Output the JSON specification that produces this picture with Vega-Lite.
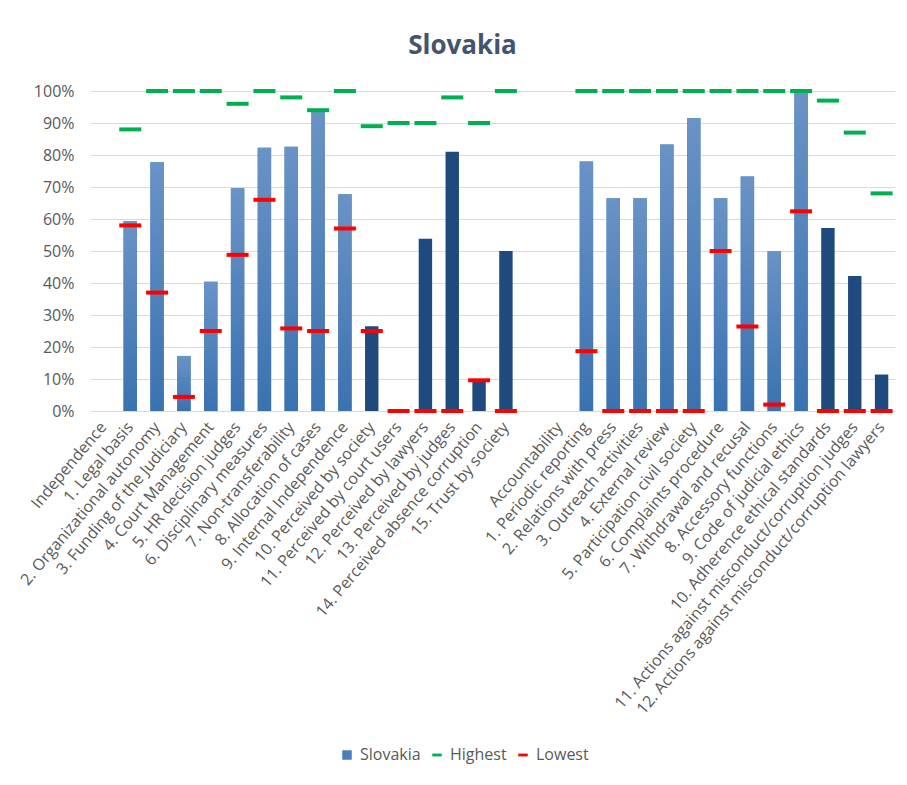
{
  "$schema": "https://vega.github.io/schema/vega-lite/v6.json",
  "autosize": {"type": "none"},
  "width": 805,
  "height": 320,
  "padding": {"left": 90, "top": 91, "right": 12, "bottom": 374},
  "background": "white",
  "title": {
    "text": "Slovakia",
    "font": "Open Sans",
    "fontSize": 26,
    "fontWeight": "bold",
    "color": "#44546a",
    "anchor": "middle",
    "dx": -30,
    "offset": 24
  },
  "config": {
    "view": {"stroke": null},
    "font": "Open Sans",
    "axis": {"labelFont": "Open Sans", "labelColor": "#595959"},
    "axisY": {
      "labelFontSize": 16,
      "labelPadding": 16,
      "labelOverlap": false,
      "ticks": false,
      "domain": false,
      "grid": true,
      "gridColor": "#d9d9d9",
      "gridWidth": 1,
      "title": null
    },
    "legend": {"labelFont": "Open Sans", "labelColor": "#595959"}
  },
  "data": {
    "values": [
      {"cat": "Independence", "slovakia": null, "highest": null, "lowest": null, "kind": "none"},
      {"cat": "1. Legal basis", "slovakia": 59.4, "highest": 88, "lowest": 58, "kind": "light"},
      {"cat": "2. Organizational autonomy", "slovakia": 77.7, "highest": 100, "lowest": 37, "kind": "light"},
      {"cat": "3. Funding of the Judiciary", "slovakia": 17.2, "highest": 100, "lowest": 4.4, "kind": "light"},
      {"cat": "4. Court Management", "slovakia": 40.4, "highest": 100, "lowest": 25, "kind": "light"},
      {"cat": "5. HR decision judges", "slovakia": 69.6, "highest": 96, "lowest": 48.8, "kind": "light"},
      {"cat": "6. Disciplinary measures", "slovakia": 82.3, "highest": 100, "lowest": 66, "kind": "light"},
      {"cat": "7. Non-transferability", "slovakia": 82.6, "highest": 98, "lowest": 25.8, "kind": "light"},
      {"cat": "8. Allocation of cases", "slovakia": 94, "highest": 94, "lowest": 25, "kind": "light"},
      {"cat": "9. Internal Independence", "slovakia": 67.7, "highest": 100, "lowest": 57, "kind": "light"},
      {"cat": "10. Perceived by society", "slovakia": 26.5, "highest": 89, "lowest": 25, "kind": "dark"},
      {"cat": "11. Perceived by court users", "slovakia": 0, "highest": 90, "lowest": 0, "kind": "dark"},
      {"cat": "12. Perceived by lawyers", "slovakia": 53.8, "highest": 90, "lowest": 0, "kind": "dark"},
      {"cat": "13. Perceived by judges", "slovakia": 81, "highest": 98, "lowest": 0, "kind": "dark"},
      {"cat": "14. Perceived absence corruption", "slovakia": 9.6, "highest": 90, "lowest": 9.6, "kind": "dark"},
      {"cat": "15. Trust by society", "slovakia": 50, "highest": 100, "lowest": 0, "kind": "dark"},
      {"cat": " ", "slovakia": null, "highest": null, "lowest": null, "kind": "none"},
      {"cat": "Accountability", "slovakia": null, "highest": null, "lowest": null, "kind": "none"},
      {"cat": "1. Periodic reporting", "slovakia": 78, "highest": 100, "lowest": 18.7, "kind": "light"},
      {"cat": "2. Relations with press", "slovakia": 66.5, "highest": 100, "lowest": 0, "kind": "light"},
      {"cat": "3. Outreach activities", "slovakia": 66.5, "highest": 100, "lowest": 0, "kind": "light"},
      {"cat": "4. External review", "slovakia": 83.3, "highest": 100, "lowest": 0, "kind": "light"},
      {"cat": "5. Participation civil society", "slovakia": 91.6, "highest": 100, "lowest": 0, "kind": "light"},
      {"cat": "6. Complaints procedure", "slovakia": 66.5, "highest": 100, "lowest": 50, "kind": "light"},
      {"cat": "7. Withdrawal and recusal", "slovakia": 73.3, "highest": 100, "lowest": 26.4, "kind": "light"},
      {"cat": "8. Accessory functions", "slovakia": 50, "highest": 100, "lowest": 2, "kind": "light"},
      {"cat": "9. Code of judicial ethics", "slovakia": 100, "highest": 100, "lowest": 62.4, "kind": "light"},
      {"cat": "10. Adherence ethical standards", "slovakia": 57.2, "highest": 97, "lowest": 0, "kind": "dark"},
      {"cat": "11. Actions against misconduct/corruption judges", "slovakia": 42.2, "highest": 87, "lowest": 0, "kind": "dark"},
      {"cat": "12. Actions against misconduct/corruption lawyers", "slovakia": 11.4, "highest": 68, "lowest": 0, "kind": "dark"}
    ]
  },
  "encoding": {
    "x": {
      "field": "cat",
      "type": "nominal",
      "sort": null,
      "scale": {
        "domain": ["Independence", "1. Legal basis", "2. Organizational autonomy", "3. Funding of the Judiciary", "4. Court Management", "5. HR decision judges", "6. Disciplinary measures", "7. Non-transferability", "8. Allocation of cases", "9. Internal Independence", "10. Perceived by society", "11. Perceived by court users", "12. Perceived by lawyers", "13. Perceived by judges", "14. Perceived absence corruption", "15. Trust by society", " ", "Accountability", "1. Periodic reporting", "2. Relations with press", "3. Outreach activities", "4. External review", "5. Participation civil society", "6. Complaints procedure", "7. Withdrawal and recusal", "8. Accessory functions", "9. Code of judicial ethics", "10. Adherence ethical standards", "11. Actions against misconduct/corruption judges", "12. Actions against misconduct/corruption lawyers"],
        "paddingInner": 0.5,
        "paddingOuter": 0.25,
        "align": 0.5
      },
      "axis": {
        "title": null,
        "labelAngle": -50,
        "labelFontSize": 16,
        "labelPadding": 13,
        "labelOverlap": false,
        "ticks": false,
        "domain": false,
        "grid": false,
        "labelLimit": 500
      }
    }
  },
  "layer": [
    {
      "transform": [{"filter": "datum.kind === 'light'"}],
      "mark": {"type": "bar"},
      "encoding": {
        "y": {
          "field": "slovakia",
          "type": "quantitative",
          "scale": {"domain": [0, 100], "nice": false},
          "axis": {
            "title": null,
            "values": [0, 10, 20, 30, 40, 50, 60, 70, 80, 90, 100],
            "labelExpr": "datum.value + '%'"
          }
        },
        "color": {
          "datum": "Slovakia",
          "type": "nominal",
          "scale": {
            "domain": ["Slovakia", "Highest", "Lowest"],
            "range": ["#4a7ebb", "#00b050", "#ff0000"]
          },
          "legend": {
            "title": null,
            "orient": "none",
            "direction": "horizontal",
            "legendX": 249,
            "legendY": 656,
            "labelFontSize": 16,
            "labelOffset": 5,
            "symbolSize": 90,
            "columnPadding": 8,
            "symbolOpacity": 1,
            "encode": {
              "symbols": {
                "update": {
                  "shape": {"signal": "datum.value === 'Slovakia' ? 'square' : 'M-1,-0.3H1V0.3H-1Z'"},
                  "strokeWidth": {"value": 0}
                }
              }
            }
          }
        }
      }
    },
    {
      "transform": [{"filter": "datum.kind === 'light'"}],
      "mark": {
        "type": "bar",
        "color": {
          "gradient": "linear",
          "x1": 0, "y1": 0, "x2": 0, "y2": 1,
          "stops": [
            {"offset": 0, "color": "#6a93c6"},
            {"offset": 1, "color": "#3a72b0"}
          ]
        }
      },
      "encoding": {
        "y": {
          "field": "slovakia",
          "type": "quantitative",
          "axis": {"title": null, "values": [0, 10, 20, 30, 40, 50, 60, 70, 80, 90, 100], "labelExpr": "datum.value + '%'"}
        }
      }
    },
    {
      "transform": [{"filter": "datum.kind === 'dark'"}],
      "mark": {"type": "bar", "color": "#1f4a7e"},
      "encoding": {
        "y": {
          "field": "slovakia",
          "type": "quantitative",
          "axis": {"title": null, "values": [0, 10, 20, 30, 40, 50, 60, 70, 80, 90, 100], "labelExpr": "datum.value + '%'"}
        }
      }
    },
    {
      "mark": {"type": "tick", "size": 22, "thickness": 4, "opacity": 1},
      "encoding": {
        "y": {
          "field": "highest",
          "type": "quantitative",
          "axis": {"title": null, "values": [0, 10, 20, 30, 40, 50, 60, 70, 80, 90, 100], "labelExpr": "datum.value + '%'"}
        },
        "color": {"datum": "Highest", "type": "nominal"}
      }
    },
    {
      "mark": {"type": "tick", "size": 22, "thickness": 4, "opacity": 1},
      "encoding": {
        "y": {
          "field": "lowest",
          "type": "quantitative",
          "axis": {"title": null, "values": [0, 10, 20, 30, 40, 50, 60, 70, 80, 90, 100], "labelExpr": "datum.value + '%'"}
        },
        "color": {"datum": "Lowest", "type": "nominal"}
      }
    }
  ]
}
